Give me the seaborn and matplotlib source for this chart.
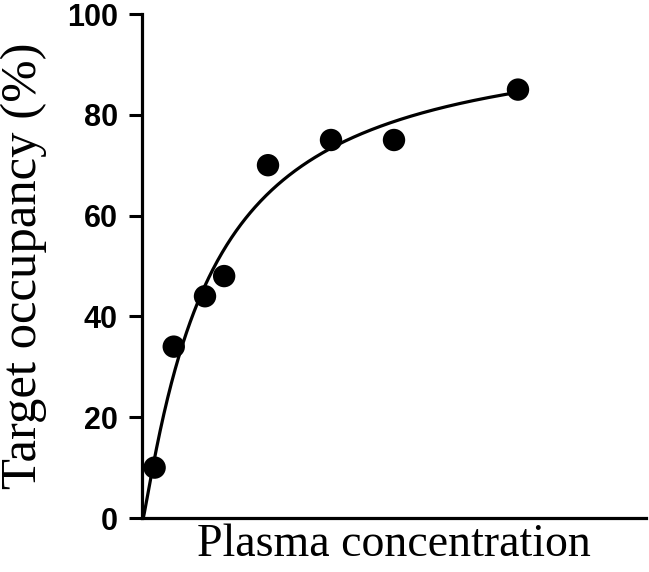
import numpy as np
import pandas as pd
import matplotlib
matplotlib.use("Agg")
import matplotlib.pyplot as plt
import seaborn as sns

# Observed data (plasma concentration in arbitrary units, occupancy in %)
concentration = [2.5, 6.3, 12.5, 16.3, 25.0, 37.5, 50.0, 74.6]
occupancy = [10, 34, 44, 48, 70, 75, 75, 85]

# Fitted Hill/Emax model parameters
emax = 97.4
ec50 = 13.5
hill = 1.1
conc_start = 0.25
conc_end = 74.6

y_ticks = [0, 20, 40, 60, 80, 100]
x_label = "Plasma concentration"
y_label = "Target occupancy (%)"

sns.set_style("ticks")
plt.rcParams["font.family"] = ["Liberation Sans", "DejaVu Sans"]
plt.rcParams["text.color"] = "black"
plt.rcParams["axes.labelcolor"] = "black"

fig = plt.figure(figsize=(6.49, 5.72), dpi=100)
ax = fig.add_axes([142 / 649, 1 - 518 / 572, (646 - 142) / 649, (518 - 14) / 572])

xs = np.linspace(conc_start, conc_end, 400)
xe = xs - conc_start
fit = emax * xe ** hill / (ec50 ** hill + xe ** hill)
curve = pd.DataFrame({"x": xs, "y": fit})
pts = pd.DataFrame({"x": concentration, "y": occupancy})

sns.lineplot(data=curve, x="x", y="y", ax=ax, color="black", linewidth=2.3,
             sort=False, zorder=2)
sns.scatterplot(data=pts, x="x", y="y", ax=ax, color="black", s=260,
                edgecolor="none", zorder=3)

ax.set_xlim(0, 100)
ax.set_ylim(0, 100)
ax.set_yticks(y_ticks)
ax.set_xticks([])
ax.set_yticklabels([str(t) for t in y_ticks], fontweight="bold", fontsize=22,
                   family=["Liberation Sans", "DejaVu Sans"], color="black")
ax.tick_params(axis="y", length=9.5, width=2.2, pad=8, colors="black")

for side in ["top", "right"]:
    ax.spines[side].set_visible(False)
for side in ["left", "bottom"]:
    ax.spines[side].set_linewidth(2.3)
    ax.spines[side].set_color("black")

ax.set_xlabel(x_label, fontsize=33, family=["Liberation Serif", "DejaVu Serif"],
              labelpad=4, color="black")
ax.set_ylabel(y_label, fontsize=36.5, family=["Liberation Serif", "DejaVu Serif"],
              labelpad=14, color="black")
ax.patch.set_alpha(0)

fig.savefig("out.png", dpi=100)
